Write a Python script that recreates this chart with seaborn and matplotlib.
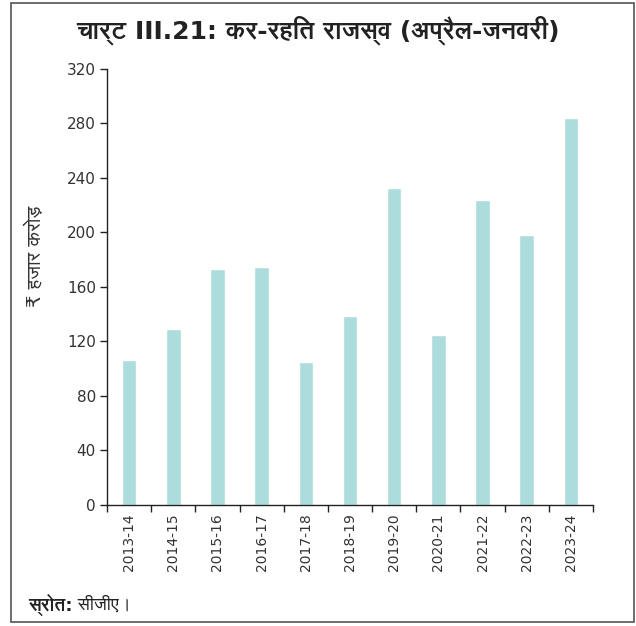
import matplotlib
matplotlib.use("Agg")
import matplotlib.pyplot as plt
import seaborn as sns
import pandas as pd
from matplotlib import font_manager
from matplotlib.ft2font import FT2Font
from matplotlib.patches import Rectangle

# data (₹ thousand crore)
years = ["2013-14", "2014-15", "2015-16", "2016-17", "2017-18", "2018-19",
         "2019-20", "2020-21", "2021-22", "2022-23", "2023-24"]
revenue = [106.5, 129, 173, 175, 105, 139, 233, 124.5, 223.5, 198.5, 284]

title = "चार्ट III.21: कर-रहित राजस्व (अप्रैल-जनवरी)"
ylabel = "₹ हजार करोड़"
source_bold = "स्रोत:"
source_rest = " सीजीए।"


def find_devanagari_families():
    # every installed family with Devanagari glyphs, sans (non-mono) first
    found = {}
    for f in font_manager.fontManager.ttflist:
        try:
            cmap = FT2Font(f.fname).get_charmap()
        except Exception:
            continue
        if 0x0915 in cmap and 0x0930 in cmap:
            found[f.name] = f.fname
    def rank(name):
        n = name.lower()
        score = 0
        if "mono" in n or "unifont" in n or "code" in n:
            score += 10
        if "sans" not in n:
            score += 1
        return score
    return sorted(found, key=rank)


sns.set_style("white")
deva = find_devanagari_families()
families = ["DejaVu Sans"] + deva[:1]
plt.rcParams["font.family"] = families

df = pd.DataFrame({"year": years, "value": revenue})

fig = plt.figure(figsize=(6.36, 6.26), dpi=100)
ax = fig.add_axes([0.1682, 0.1933, 0.7642, 0.6965])

sns.barplot(data=df, x="year", y="value", color="#acdcdb", width=0.33,
            saturation=1, ax=ax)

ax.set_ylim(0, 320)
ax.set_yticks(range(0, 321, 40))
ax.set_xlim(-0.5, len(years) - 0.5)
ax.set_xlabel("")
ax.set_ylabel(ylabel, fontsize=14, color="#333333")
ax.yaxis.set_label_coords(-0.128, 0.57)

for s in ["top", "right"]:
    ax.spines[s].set_visible(False)
for s in ["left", "bottom"]:
    ax.spines[s].set_color("#222222")
    ax.spines[s].set_linewidth(1.0)

ax.tick_params(axis="y", which="major", left=True, direction="out", length=5,
               width=1, color="#222222", labelsize=11, labelcolor="#333333",
               pad=3)
ax.tick_params(axis="x", which="major", bottom=False, length=0, labelsize=10,
               labelcolor="#333333", pad=6, rotation=90)
ax.set_xticks([i + 0.5 for i in range(-1, len(years))], minor=True)
ax.tick_params(axis="x", which="minor", bottom=True, direction="out",
               length=5, width=1, color="#222222")

fig.text(0.5, 0.952, title, ha="center", va="center", fontsize=18,
         fontweight="bold", color="#222222")

t = fig.text(0.044, 0.034, source_bold, ha="left", va="center", fontsize=13,
             fontweight="bold", color="#222222")
fig.canvas.draw()
bb = t.get_window_extent()
x2 = bb.x1 / fig.bbox.width
fig.text(x2, 0.034, source_rest, ha="left", va="center", fontsize=13,
         color="#222222")

# outer frame around the whole chart
fig.patches.append(Rectangle((0.0175, 0.0064), 0.979, 0.9888,
                             transform=fig.transFigure, fill=False,
                             edgecolor="#555555", linewidth=1.2))

fig.savefig("out.png", dpi=100)
